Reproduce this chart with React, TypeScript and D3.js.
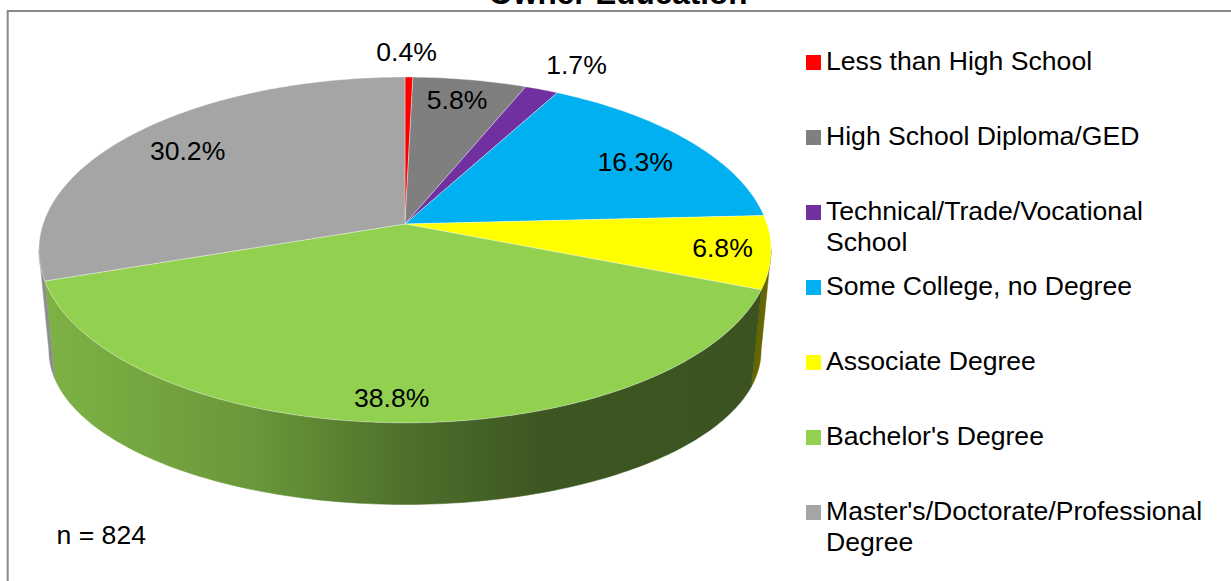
import React from "react";
import * as d3 from "d3";

const title = "Owner Education";
const categories = [
  "Less than High School",
  "High School Diploma/GED",
  "Technical/Trade/Vocational School",
  "Some College, no Degree",
  "Associate Degree",
  "Bachelor's Degree",
  "Master's/Doctorate/Professional Degree",
];
const values = [0.4, 5.8, 1.7, 16.3, 6.8, 38.8, 30.2];
const colors = ["#FF0000", "#7F7F7F", "#7030A0", "#00B0F0", "#FFFF00", "#92D050", "#A5A5A5"];
const sampleNote = "n = 824";

// label placement: radial factor, extra dx, dy (styling, not data)
const labelPlacement = [
  { r: 1.2, dx: -3, dy: 0 },
  { r: 0.78, dx: 0, dy: -8 },
  { r: 1.3, dx: 0, dy: 10 },
  { r: 0.8, dx: 0, dy: 6 },
  { r: 0.87, dx: 0, dy: 0 },
  { r: 0.89, dx: -4, dy: 0 },
  { r: 0.79, dx: 0, dy: 0 },
];

const W = 1231;
const H = 581;
const FONT = "'Liberation Sans', Arial, Helvetica, sans-serif";
const FS = 26.6;

// perspective pie geometry
const cx = 405;
const cyTop = 224;
const A = 362;
const B = 169;
const K = 0.15;
const cyBot = 328;
const A2 = 352;
const B2 = 150;

function proj(theta: number, r: number, bottom: boolean): [number, number] {
  const u = r * Math.sin(theta);
  const v = -r * Math.cos(theta);
  const w = 1 - K * v;
  if (!bottom) return [cx + (A * u) / w, cyTop + (B * v) / w];
  return [cx + (A2 * u) / w, cyBot + (B2 * v) / w];
}

function arcPts(a0: number, a1: number, bottom: boolean): [number, number][] {
  const n = Math.max(2, Math.ceil(((a1 - a0) * 180) / Math.PI));
  const pts: [number, number][] = [];
  for (let i = 0; i <= n; i++) pts.push(proj(a0 + ((a1 - a0) * i) / n, 1, bottom));
  return pts;
}

function shade(hex: string, f: number) {
  const c = d3.rgb(hex);
  return d3.rgb(c.r * f, c.g * f, c.b * f).formatHex();
}

function wrap(text: string, maxW: number, font: string): string[] {
  const canvas = document.createElement("canvas");
  const ctx = canvas.getContext("2d")!;
  ctx.font = font;
  const words = text.split(" ");
  const lines: string[] = [];
  let cur = "";
  for (const w of words) {
    const t = cur ? cur + " " + w : w;
    if (ctx.measureText(t).width > maxW && cur) {
      lines.push(cur);
      cur = w;
    } else cur = t;
  }
  if (cur) lines.push(cur);
  return lines;
}

export default function App() {
  const pie = d3
    .pie<number>()
    .sort(null)
    .value((d) => d)
    .startAngle(0)
    .endAngle(2 * Math.PI);
  const arcs = pie(values);
  const line = d3.line();

  const silR = Math.PI / 2 + Math.asin(K);
  const silL = (3 * Math.PI) / 2 - Math.asin(K);

  const shadeStops = [
    { o: 0, f: 0.86 },
    { o: 0.29, f: 0.73 },
    { o: 0.49, f: 0.55 },
    { o: 0.68, f: 0.42 },
    { o: 1, f: 0.4 },
  ];

  const legendX = 806;
  const legendY0 = 70;
  const legendStep = 75;

  return (
    <svg
      width={W}
      height={H}
      style={{ position: "absolute", left: 0, top: 0, background: "#fff" }}
      fontFamily={FONT}
    >
      <defs>
        {colors.map((c, i) => (
          <linearGradient key={i} id={`side${i}`} gradientUnits="userSpaceOnUse" x1={38} x2={770} y1={0} y2={0}>
            {shadeStops.map((s, j) => (
              <stop key={j} offset={s.o} stopColor={shade(c, s.f)} />
            ))}
          </linearGradient>
        ))}
      </defs>
      <rect x={0} y={0} width={W} height={H} fill="#fff" />
      <rect x={7.7} y={11} width={W + 20} height={H + 20} fill="none" stroke="#898989" strokeWidth={2} />
      <text x={618} y={4} textAnchor="middle" fontSize={31.5} fontWeight="bold" fill="#000">
        {title}
      </text>

      {/* side walls */}
      {arcs.map((a, i) => {
        const a0 = Math.max(a.startAngle, silR);
        const a1 = Math.min(a.endAngle, silL);
        if (a1 <= a0) return null;
        const top = arcPts(a0, a1, false);
        const bot = arcPts(a0, a1, true).reverse();
        return (
          <path
            key={`w${i}`}
            d={line([...top, ...bot])! + "Z"}
            fill={`url(#side${i})`}
            stroke={`url(#side${i})`}
            strokeWidth={0.5}
          />
        );
      })}

      {/* top faces */}
      {arcs.map((a, i) => {
        const pts = [proj(0, 0, false), ...arcPts(a.startAngle, a.endAngle, false)];
        return (
          <path
            key={`t${i}`}
            d={line(pts)! + "Z"}
            fill={colors[i]}
            stroke="#ffffff"
            strokeOpacity={0.45}
            strokeWidth={0.8}
            strokeLinejoin="round"
          />
        );
      })}

      {/* data labels */}
      {arcs.map((a, i) => {
        const m = (a.startAngle + a.endAngle) / 2;
        const p = labelPlacement[i];
        const [x, y] = proj(m, p.r, false);
        return (
          <text
            key={`l${i}`}
            x={x + p.dx}
            y={y + p.dy}
            textAnchor="middle"
            dominantBaseline="central"
            fontSize={FS}
            fill="#000"
          >
            {`${values[i].toFixed(1)}%`}
          </text>
        );
      })}

      <text x={56.5} y={544} fontSize={FS} fill="#000">
        {sampleNote}
      </text>

      {/* legend */}
      {categories.map((c, i) => {
        const by = legendY0 + legendStep * i;
        const lines = wrap(c, 400, `${FS}px ${FONT}`);
        return (
          <g key={`g${i}`}>
            <rect x={legendX} y={by - 15} width={15} height={15} fill={colors[i]} />
            {lines.map((ln, j) => (
              <text key={j} x={826} y={by + j * 30.5} fontSize={FS} fill="#000">
                {ln}
              </text>
            ))}
          </g>
        );
      })}
    </svg>
  );
}
